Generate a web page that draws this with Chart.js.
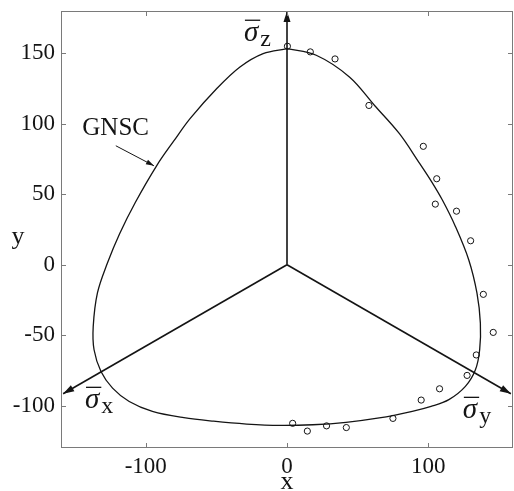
<!DOCTYPE html>
<html>
<head>
<meta charset="utf-8">
<script src="https://cdn.jsdelivr.net/npm/chart.js@4.4.1/dist/chart.umd.min.js"></script>
<style>
  html, body { margin: 0; padding: 0; background: #ffffff; }
  #wrap { width: 514px; height: 491px; }
</style>
</head>
<body>
<div id="wrap"><canvas id="c" width="514" height="491"></canvas></div>
<script>
// GNSC yield curve on the deviatoric plane (closed loop, counter-clockwise from the top)
const curveX = [0, -16.9, -33.3, -49.7, -68.5, -80, -92, -107.5, -118.5, -127.2, -134.2, -137.2, -136.6, -131.7, -123.5, -111.7, -95.3, -73, -52, -28.6, -5, 18.3, 41.8, 65.3, 88.7, 102, 114.6, 126.3, 133.4, 136.4, 136.9, 134.5, 128.7, 119.3, 110, 102, 93.5, 79.6, 62, 44.2, 20.7, 0];
const curveY = [153.3, 149.8, 140.3, 125, 103.8, 88, 70.7, 44, 22, 1, -20, -44, -60.3, -75.7, -87.5, -97, -104, -108.5, -111, -113, -114, -113.5, -111.8, -108.7, -104, -100.5, -95.7, -86.3, -74.5, -60.3, -41.4, -20.2, 3.4, 27, 45.9, 59.5, 72.5, 93, 113, 133.2, 148.6, 153.3];

// Test points
const testX = [0.3, 16.5, 34, 58, 96.5, 106, 105, 120, 130, 139, 146, 134, 127.5, 108, 95, 75, 42, 28, 14.4, 4];
const testY = [155, 151, 146, 113, 84, 61, 43, 38, 17, -21, -48, -64, -78.5, -88, -96, -109, -115.5, -114.3, -118, -112.5];

// Principal stress axes projected on the plane (tips of the arrows)
const axisNames = ['z', 'x', 'y'];
const axisTipX = [0, -158.5, 158.5];
const axisTipY = [180, -91.5, -91.5];

// Tick values
const xTicks = [-100, 0, 100];
const yTicks = [-100, -50, 0, 50, 100, 150];

const SERIF = '"Liberation Serif", "Times New Roman", serif';
const INK = '#141414';
const FRAME = '#7a7a7a';

const toPts = (xs, ys) => xs.map((v, i) => ({ x: v, y: ys[i] }));

function arrowHead(ctx, x0, y0, x1, y1, len, half) {
  const a = Math.atan2(y1 - y0, x1 - x0);
  ctx.beginPath();
  ctx.moveTo(x1, y1);
  ctx.lineTo(x1 - len * Math.cos(a) + half * Math.sin(a), y1 - len * Math.sin(a) - half * Math.cos(a));
  ctx.lineTo(x1 - len * Math.cos(a) - half * Math.sin(a), y1 - len * Math.sin(a) + half * Math.cos(a));
  ctx.closePath();
  ctx.fill();
}

function sigmaLabel(ctx, px, py, sub) {
  ctx.font = 'italic 29px ' + SERIF;
  ctx.textAlign = 'left';
  ctx.textBaseline = 'alphabetic';
  const w = ctx.measureText('\u03C3').width;
  ctx.fillText('\u03C3', px, py);
  ctx.fillRect(px + 1, py - 21, w + 1, 1.3);
  ctx.font = '24px ' + SERIF;
  ctx.fillText(sub, px + w + 2, py + 5);
}

const decorations = {
  id: 'decorations',
  afterDatasetsDraw(chart) {
    const { ctx, scales: { x, y } } = chart;
    ctx.save();
    ctx.fillStyle = INK;
    const ox = x.getPixelForValue(0), oy = y.getPixelForValue(0);
    axisTipX.forEach((tx, i) => {
      arrowHead(ctx, ox, oy, x.getPixelForValue(tx), y.getPixelForValue(axisTipY[i]), 11, 3.5);
    });
    // leader arrow pointing at the curve
    const lx0 = x.getPixelForValue(-121.2), ly0 = y.getPixelForValue(84.4);
    const lx1 = x.getPixelForValue(-94.2), ly1 = y.getPixelForValue(70.2);
    ctx.strokeStyle = INK;
    ctx.lineWidth = 1;
    ctx.beginPath();
    ctx.moveTo(lx0, ly0);
    ctx.lineTo(lx1, ly1);
    ctx.stroke();
    arrowHead(ctx, lx0, ly0, lx1, ly1, 8, 2.5);

    ctx.font = '25px ' + SERIF;
    ctx.textAlign = 'center';
    ctx.textBaseline = 'alphabetic';
    ctx.fillText('GNSC', x.getPixelForValue(-121.3), y.getPixelForValue(92));

    sigmaLabel(ctx, x.getPixelForValue(-30.5), y.getPixelForValue(159), 'z');
    sigmaLabel(ctx, x.getPixelForValue(-143), y.getPixelForValue(-101.4), 'x');
    sigmaLabel(ctx, x.getPixelForValue(124.5), y.getPixelForValue(-108.5), 'y');
    ctx.restore();
  },
  afterDraw(chart) {
    const { ctx, chartArea: a, scales: { x, y } } = chart;
    ctx.save();
    ctx.strokeStyle = FRAME;
    ctx.lineWidth = 1;
    ctx.strokeRect(a.left + 0.5, a.top + 0.5, a.right - a.left - 1, a.bottom - a.top - 1);
    const t = 5;
    ctx.beginPath();
    xTicks.forEach(v => {
      const px = Math.round(x.getPixelForValue(v)) + 0.5;
      ctx.moveTo(px, a.bottom); ctx.lineTo(px, a.bottom - t);
      ctx.moveTo(px, a.top); ctx.lineTo(px, a.top + t);
    });
    yTicks.forEach(v => {
      const py = Math.round(y.getPixelForValue(v)) + 0.5;
      ctx.moveTo(a.left, py); ctx.lineTo(a.left + t, py);
      ctx.moveTo(a.right, py); ctx.lineTo(a.right - t, py);
    });
    ctx.stroke();

    // axis titles
    ctx.fillStyle = INK;
    ctx.font = '26px ' + SERIF;
    ctx.textAlign = 'center';
    ctx.textBaseline = 'alphabetic';
    ctx.fillText('x', x.getPixelForValue(0), 489);
    ctx.fillText('y', 18, y.getPixelForValue(15));
    ctx.restore();
  }
};

function zeroPad(s) {
  s.paddingLeft = 0; s.paddingRight = 0; s.paddingTop = 0; s.paddingBottom = 0;
}

function build() {
  const axisSets = axisTipX.map((tx, i) => ({
    label: 'sigma_' + axisNames[i],
    data: [{ x: 0, y: 0 }, { x: tx, y: axisTipY[i] }],
    showLine: true,
    borderColor: INK,
    borderWidth: 1.6,
    pointRadius: 0,
    tension: 0
  }));

  new Chart(document.getElementById('c'), {
    type: 'scatter',
    data: {
      datasets: [
        {
          label: 'GNSC',
          data: toPts(curveX, curveY),
          showLine: true,
          borderColor: INK,
          borderWidth: 1.3,
          pointRadius: 0,
          tension: 0.35
        },
        ...axisSets,
        {
          label: 'test',
          data: toPts(testX, testY),
          showLine: false,
          pointStyle: 'circle',
          pointRadius: 3.1,
          borderWidth: 1,
          borderColor: INK,
          backgroundColor: 'rgba(255,255,255,0)'
        }
      ]
    },
    options: {
      responsive: false,
      devicePixelRatio: 1,
      animation: false,
      layout: { autoPadding: false, padding: { top: 11, right: 1, left: 0, bottom: 0 } },
      plugins: { legend: { display: false }, tooltip: { enabled: false } },
      scales: {
        x: {
          type: 'linear',
          min: -160,
          max: 160,
          afterBuildTicks: s => { s.ticks = xTicks.map(v => ({ value: v })); },
          afterFit: s => { s.height = 43; zeroPad(s); },
          grid: { display: false, drawTicks: false },
          border: { display: false },
          ticks: { color: INK, padding: 5, maxRotation: 0, font: { family: SERIF, size: 23 } }
        },
        y: {
          type: 'linear',
          min: -130,
          max: 180,
          afterBuildTicks: s => { s.ticks = yTicks.map(v => ({ value: v })); },
          afterFit: s => { s.width = 61; zeroPad(s); },
          grid: { display: false, drawTicks: false },
          border: { display: false },
          ticks: { color: INK, padding: 6, font: { family: SERIF, size: 23 } }
        }
      }
    },
    plugins: [decorations]
  });
}

Promise.all([
  document.fonts.load('23px "Liberation Serif"'),
  document.fonts.load('italic 29px "Liberation Serif"')
]).catch(() => {}).then(build);
</script>
</body>
</html>
